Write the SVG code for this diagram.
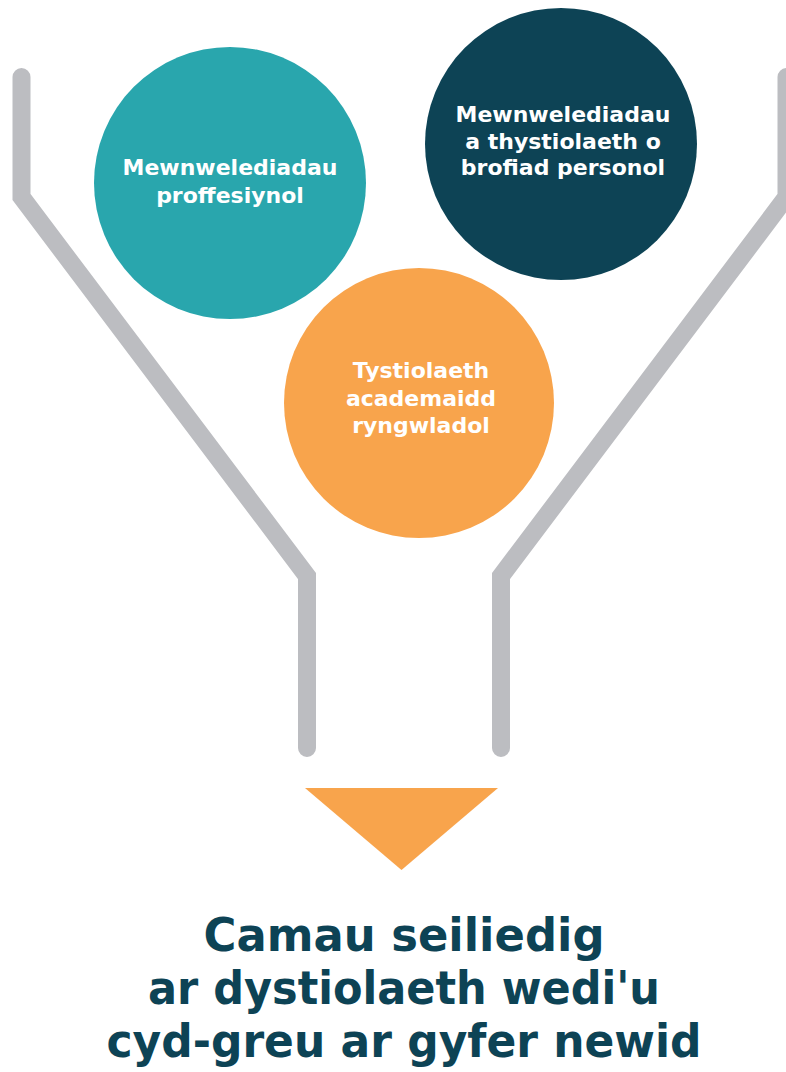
<svg xmlns="http://www.w3.org/2000/svg" width="786" height="1072" viewBox="0 0 786 1072">
<style>
.funnel{fill:none;stroke:#BCBDC1;stroke-width:18;stroke-linecap:round;stroke-linejoin:miter}
.lbl{font-family:"DejaVu Sans",sans-serif;font-weight:bold;fill:#ffffff;text-anchor:middle;font-size:22px}
.title{font-family:"DejaVu Sans",sans-serif;font-weight:bold;fill:#0D4355;text-anchor:middle;font-size:46px}
</style>
<rect width="786" height="1072" fill="#ffffff"/>
<g id="connectors">
<path class="funnel" d="M21.5,77 V197 L307,576 V748"/>
<path class="funnel" d="M786.5,77 V197 L501,576 V748"/>
<polygon points="305,788 498,788 401.5,870" fill="#F8A44C"/>
</g>
<g id="node-professional">
<circle cx="230" cy="183" r="136" fill="#29A6AD"/>
<text class="lbl" x="230" y="175">Mewnwelediadau</text>
<text class="lbl" x="230" y="203">proffesiynol</text>
</g>
<g id="node-personal">
<circle cx="561" cy="144" r="136" fill="#0D4355"/>
<text class="lbl" x="563" y="122">Mewnwelediadau</text>
<text class="lbl" x="563" y="148.5">a thystiolaeth o</text>
<text class="lbl" x="563" y="175">brofiad personol</text>
</g>
<g id="node-academic">
<circle cx="419" cy="403" r="135" fill="#F8A44C"/>
<text class="lbl" x="421" y="378">Tystiolaeth</text>
<text class="lbl" x="421" y="406">academaidd</text>
<text class="lbl" x="421" y="433">ryngwladol</text>
</g>
<g id="node-outcome">
<text class="title" x="404" y="951" textLength="401" lengthAdjust="spacingAndGlyphs">Camau seiliedig</text>
<text class="title" x="404" y="1004" textLength="512" lengthAdjust="spacingAndGlyphs">ar dystiolaeth wedi'u</text>
<text class="title" x="404" y="1057" textLength="595" lengthAdjust="spacingAndGlyphs">cyd-greu ar gyfer newid</text>
</g>
</svg>
